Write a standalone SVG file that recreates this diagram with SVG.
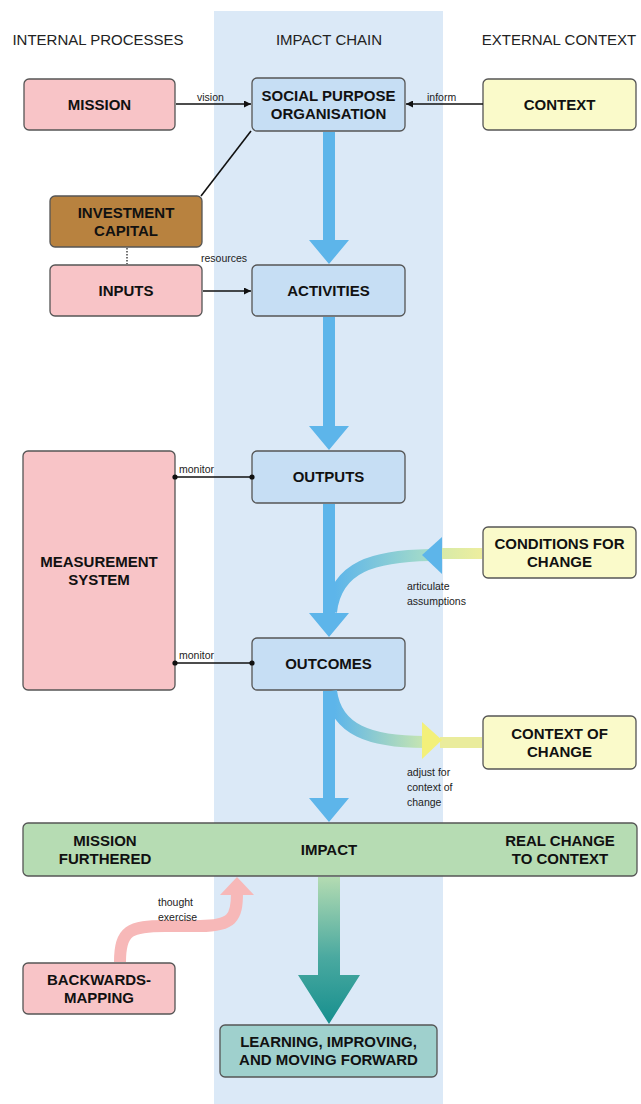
<svg xmlns="http://www.w3.org/2000/svg" width="641" height="1104" viewBox="0 0 641 1104">
<style>
.hdr{font-family:"Liberation Sans",Arial,sans-serif;font-size:15px;fill:#222;text-anchor:middle}
.t{font-family:"Liberation Sans",Arial,sans-serif;font-size:15px;font-weight:bold;fill:#111;text-anchor:middle}
.lbl{font-family:"Liberation Sans",Arial,sans-serif;font-size:10.5px;fill:#222}
.box{stroke:#555;stroke-width:1.3}
.pink{fill:#f8c4c7}
.blue{fill:#c6def4}
.yel{fill:#fafaca}
.line{stroke:#111;stroke-width:1.6;fill:none}
.big{fill:#5db5ea}
.dot{fill:#111}
</style>
<defs>
<marker id="ah" viewBox="0 0 10 10" refX="10" refY="5" markerWidth="7" markerHeight="7" orient="auto" markerUnits="userSpaceOnUse">
<path d="M0,0 L10,5 L0,10 z" fill="#111"/>
</marker>
<linearGradient id="gCond" gradientUnits="userSpaceOnUse" x1="335" y1="0" x2="430" y2="0">
<stop offset="0" stop-color="#5db5ea"/>
<stop offset="1" stop-color="#a6dcc8"/>
</linearGradient>
<linearGradient id="gCondBand" gradientUnits="userSpaceOnUse" x1="440" y1="0" x2="483" y2="0">
<stop offset="0" stop-color="#d6eaa8"/>
<stop offset="1" stop-color="#eeee9e"/>
</linearGradient>
<linearGradient id="gCtx" gradientUnits="userSpaceOnUse" x1="335" y1="0" x2="425" y2="0">
<stop offset="0" stop-color="#5db5ea"/>
<stop offset="1" stop-color="#c8e6b0"/>
</linearGradient>
<linearGradient id="gTeal" gradientUnits="userSpaceOnUse" x1="0" y1="876" x2="0" y2="1024">
<stop offset="0" stop-color="#b5dcb2"/>
<stop offset="0.55" stop-color="#4aa9a0"/>
<stop offset="1" stop-color="#168f8e"/>
</linearGradient>
</defs>

<rect x="214" y="11" width="229" height="1093" fill="#dbe9f7"/>

<g id="headers">
<text class="hdr" x="98" y="45">INTERNAL PROCESSES</text>
<text class="hdr" x="329" y="45">IMPACT CHAIN</text>
<text class="hdr" x="559" y="45">EXTERNAL CONTEXT</text>
</g>

<g id="mission"><rect class="box pink" x="24" y="79" width="151" height="51" rx="5"/><text class="t" x="99.5" y="110">MISSION</text></g>
<g id="spo"><rect class="box blue" x="252" y="78" width="153" height="53" rx="5"/><text class="t" x="328.5" y="101">SOCIAL PURPOSE</text><text class="t" x="328.5" y="119">ORGANISATION</text></g>
<g id="context"><rect class="box yel" x="483" y="79" width="153" height="51" rx="5"/><text class="t" x="559.5" y="110">CONTEXT</text></g>
<g id="investment"><rect class="box" fill="#b8823f" x="50" y="196" width="152" height="51" rx="5"/><text class="t" x="126" y="218">INVESTMENT</text><text class="t" x="126" y="236">CAPITAL</text></g>
<g id="inputs"><rect class="box pink" x="50" y="265" width="152" height="51" rx="5"/><text class="t" x="126" y="296">INPUTS</text></g>
<g id="activities"><rect class="box blue" x="252" y="265" width="153" height="51" rx="5"/><text class="t" x="328.5" y="296">ACTIVITIES</text></g>
<g id="measurement"><rect class="box pink" x="23" y="451" width="152" height="239" rx="5"/><text class="t" x="99" y="567">MEASUREMENT</text><text class="t" x="99" y="585">SYSTEM</text></g>
<g id="outputs"><rect class="box blue" x="252" y="451" width="153" height="52" rx="5"/><text class="t" x="328.5" y="482">OUTPUTS</text></g>
<g id="conditions"><rect class="box yel" x="483" y="527" width="153" height="51" rx="5"/><text class="t" x="559.5" y="549">CONDITIONS FOR</text><text class="t" x="559.5" y="567">CHANGE</text></g>
<g id="outcomes"><rect class="box blue" x="252" y="638" width="153" height="52" rx="5"/><text class="t" x="328.5" y="669">OUTCOMES</text></g>
<g id="contextofchange"><rect class="box yel" x="483" y="716" width="153" height="53" rx="5"/><text class="t" x="559.5" y="739">CONTEXT OF</text><text class="t" x="559.5" y="757">CHANGE</text></g>
<g id="impact"><rect class="box" fill="#b6dcb3" x="23" y="823" width="614" height="53" rx="5"/>
<text class="t" x="105" y="846">MISSION</text><text class="t" x="105" y="864">FURTHERED</text>
<text class="t" x="329" y="855">IMPACT</text>
<text class="t" x="560" y="846">REAL CHANGE</text><text class="t" x="560" y="864">TO CONTEXT</text></g>
<g id="backwards"><rect class="box pink" x="23" y="963" width="152" height="51" rx="5"/><text class="t" x="99" y="985">BACKWARDS-</text><text class="t" x="99" y="1003">MAPPING</text></g>
<g id="learning"><rect class="box" fill="#9fd0cd" x="220" y="1025" width="217" height="52" rx="5"/><text class="t" x="328.5" y="1047">LEARNING, IMPROVING,</text><text class="t" x="328.5" y="1065">AND MOVING FORWARD</text></g>

<g id="connectors">
<line class="line" x1="176" y1="104" x2="251" y2="104" marker-end="url(#ah)"/>
<text class="lbl" x="197" y="101">vision</text>
<line class="line" x1="483" y1="104" x2="406" y2="104" marker-end="url(#ah)"/>
<text class="lbl" x="427" y="101">inform</text>
<line class="line" x1="251" y1="131" x2="201" y2="196"/>
<line x1="127" y1="248" x2="127" y2="264" stroke="#444" stroke-width="1.5" stroke-dasharray="1.5,1.5"/>
<line class="line" x1="203" y1="291" x2="251" y2="291" marker-end="url(#ah)"/>
<text class="lbl" x="201" y="262">resources</text>
<line class="line" x1="175" y1="477" x2="252" y2="477"/>
<circle class="dot" cx="175" cy="477" r="2.6"/><circle class="dot" cx="252" cy="477" r="2.6"/>
<text class="lbl" x="179" y="473">monitor</text>
<line class="line" x1="175" y1="663" x2="252" y2="663"/>
<circle class="dot" cx="175" cy="663" r="2.6"/><circle class="dot" cx="252" cy="663" r="2.6"/>
<text class="lbl" x="179" y="659">monitor</text>

<polygon class="big" points="323,132 335,132 335,240 349,240 329,264 309,240 323,240"/>
<polygon class="big" points="323,317 335,317 335,426 349,426 329,450 309,426 323,426"/>
<polygon class="big" points="323,504 335,504 335,613 349,613 329,637 309,613 323,613"/>
<polygon class="big" points="323,691 335,691 335,798 349,798 329,822 309,798 323,798"/>

<path d="M 430 555 C 375 556 336 566 331 612" fill="none" stroke="url(#gCond)" stroke-width="12"/>
<rect x="440" y="548" width="42" height="11" fill="url(#gCondBand)"/>
<polygon points="422,555 442,537 442,574" fill="#5db5ea"/>
<text class="lbl" x="407" y="590">articulate</text>
<text class="lbl" x="407" y="605">assumptions</text>

<path d="M 331 691 C 336 730 370 742 425 742" fill="none" stroke="url(#gCtx)" stroke-width="12"/>
<rect x="440" y="737" width="42" height="11" fill="#eaec9c"/>
<polygon points="422,722 442,740 422,759" fill="#f3f07a"/>
<text class="lbl" x="407" y="776">adjust for</text>
<text class="lbl" x="407" y="791">context of</text>
<text class="lbl" x="407" y="806">change</text>

<path d="M 120 962 C 120 930 130 926 165 926 L 200 926 C 232 926 237 918 237 893" fill="none" stroke="#f7b8b8" stroke-width="12"/>
<polygon points="237,877 220,895 254,895" fill="#f7b8b8"/>
<text class="lbl" x="158" y="906">thought</text>
<text class="lbl" x="158" y="921">exercise</text>

<polygon fill="url(#gTeal)" points="318,877 340,877 340,975 360,975 329,1024 298,975 318,975"/>
</g>
</svg>
